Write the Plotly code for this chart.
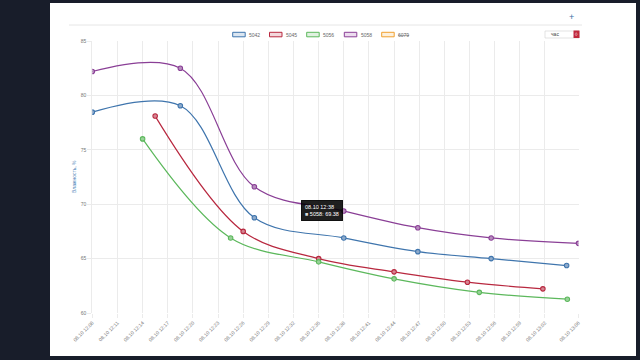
import plotly.graph_objects as go

DAY = "2020-10-08 "

series_names = ["5042", "5045", "5056", "5058"]
hidden_series = ["6079"]

t_5042 = ["12:08:00", "12:18:30", "12:27:20", "12:38:00", "12:46:50", "12:55:35", "13:04:35"]
v_5042 = [78.46, 79.05, 68.76, 66.9, 65.64, 65.0, 64.36]

t_5045 = ["12:15:30", "12:26:00", "12:35:00", "12:44:00", "12:52:45", "13:01:45"]
v_5045 = [78.1, 67.5, 65.0, 63.78, 62.83, 62.22]

t_5056 = ["12:14:00", "12:24:30", "12:35:00", "12:44:00", "12:54:10", "13:04:40"]
v_5056 = [76.0, 66.9, 64.7, 63.14, 61.9, 61.27]

t_5058 = ["12:08:00", "12:18:30", "12:27:20", "12:38:00", "12:46:50", "12:55:35", "13:06:00"]
v_5058 = [82.2, 82.5, 71.6, 69.38, 67.84, 66.9, 66.4]

tick_times = ["12:08", "12:11", "12:14", "12:17", "12:20", "12:23", "12:26", "12:29", "12:32",
              "12:35", "12:38", "12:41", "12:44", "12:47", "12:50", "12:53", "12:56", "12:59",
              "13:02", "13:06"]
tick_labels = ["08.10 " + t for t in tick_times]

y_ticks = [60, 65, 70, 75, 80, 85]
y_title = "Влажность, %"

tooltip_time = "12:38:00"
tooltip_label = "08.10 12:38"
tooltip_series = "5058"
tooltip_value = 69.38

colors = {"5042": "#3f75ad", "5045": "#b8283f", "5056": "#5cb85c", "5058": "#8a3f96", "6079": "#f0a030"}
fills = {"5042": "#dbe6f1", "5045": "#f3d8dc", "5056": "#e0f1e0", "5058": "#ecdcef", "6079": "#fdf0dc"}
marker_fills = {"5042": "#8eaacb", "5045": "#d58592", "5056": "#98d198", "5058": "#b68dbd"}

data = {"5042": (t_5042, v_5042), "5045": (t_5045, v_5045),
        "5056": (t_5056, v_5056), "5058": (t_5058, v_5058)}

W, H = 640, 360
def px(x):
    return x / W
def py(y):
    return 1 - y / H

fig = go.Figure()
for name in series_names:
    ts, vs = data[name]
    fig.add_trace(go.Scatter(
        x=[DAY + t for t in ts], y=vs, mode="lines+markers", name=name,
        line=dict(color=colors[name], width=1.2, shape="spline", smoothing=1.0),
        marker=dict(size=4.5, color=marker_fills[name], line=dict(color=colors[name], width=1.1)),
        showlegend=False, hoverinfo="skip"))

font = "Liberation Sans, Arial, sans-serif"

shapes = [
    dict(type="rect", xref="paper", yref="paper", x0=px(50), x1=px(636), y0=py(356), y1=py(3),
         fillcolor="white", line=dict(width=0), layer="below"),
    dict(type="line", xref="paper", yref="paper", x0=px(69), x1=px(582), y0=py(25), y1=py(25),
         line=dict(color="#e6e6e6", width=1)),
    dict(type="rect", xref="paper", yref="paper", x0=px(545), x1=px(579), y0=py(38), y1=py(31),
         fillcolor="white", line=dict(color="#d0d0d0", width=0.6)),
    dict(type="rect", xref="paper", yref="paper", x0=px(573.5), x1=px(579.5), y0=py(38), y1=py(30.5),
         fillcolor="#c0283c", line=dict(width=0)),
]

annotations = [
    dict(text="+", xref="paper", yref="paper", x=px(571.5), y=py(17), showarrow=False,
         font=dict(size=9, color="#3a6ea5", family=font), xanchor="center", yanchor="middle"),
    dict(text="час", xref="paper", yref="paper", x=px(549), y=py(34.3), showarrow=False,
         font=dict(size=5, color="#444", family=font), xanchor="left", yanchor="middle"),
    dict(text="◊", xref="paper", yref="paper", x=px(576.5), y=py(34.3), showarrow=False,
         font=dict(size=5, color="white", family=font), xanchor="center", yanchor="middle"),
]

legend_items = series_names + hidden_series
lx = [232.7, 269.5, 306.7, 344.3, 381.7]
for name, x0 in zip(legend_items, lx):
    shapes.append(dict(type="rect", xref="paper", yref="paper", x0=px(x0), x1=px(x0 + 12.5),
                       y0=py(36.8), y1=py(32.3), fillcolor=fills[name],
                       line=dict(color=colors[name], width=1)))
    label = name if name in series_names else "<s>" + name + "</s>"
    annotations.append(dict(text=label, xref="paper", yref="paper", x=px(x0 + 14.5), y=py(34.6),
                            showarrow=False, xanchor="left", yanchor="middle",
                            font=dict(size=5, color="#666", family=font)))

annotations.append(dict(text=y_title, xref="paper", yref="paper", x=px(74), y=py(177),
                        textangle=-90, showarrow=False, xanchor="center", yanchor="middle",
                        font=dict(size=5, color="#4a7fb5", family=font)))

annotations.append(dict(text=tooltip_label + "<br><span style='color:#ddd'>■</span> " +
                        tooltip_series + ": " + str(tooltip_value),
                        x=DAY + tooltip_time, y=tooltip_value, xref="x", yref="y",
                        showarrow=False, xanchor="right", yanchor="middle", xshift=-1,
                        align="left", bgcolor="rgba(0,0,0,0.88)", bordercolor="rgba(0,0,0,0.88)",
                        borderpad=3, font=dict(size=5.5, color="white", family=font)))

fig.update_layout(
    width=W, height=H, margin=dict(l=0, r=0, t=0, b=0, autoexpand=False),
    paper_bgcolor="#181d2a", plot_bgcolor="white",
    shapes=shapes, annotations=annotations, showlegend=False,
    font=dict(family=font, size=5, color="#666"),
    xaxis=dict(domain=[px(92.3), px(578.5)], type="date", automargin=False,
               range=[DAY + "12:08", DAY + "13:06"],
               tickvals=[DAY + t for t in tick_times], ticktext=tick_labels,
               tickangle=-45, showgrid=True, gridcolor="#ebebeb", gridwidth=1,
               ticks="outside", ticklen=4, tickcolor="#ebebeb",
               tickfont=dict(size=5, color="#777", family=font),
               showline=False, zeroline=False),
    yaxis=dict(domain=[py(313), py(41)], range=[60, 85], tickvals=y_ticks, automargin=False,
               showgrid=True, gridcolor="#ebebeb", gridwidth=1,
               ticks="outside", ticklen=4, tickcolor="#ebebeb",
               tickfont=dict(size=5, color="#777", family=font),
               showline=True, linecolor="#ebebeb", zeroline=False),
)

fig.write_html("out.html", config={"displayModeBar": False},
               post_script="document.body.style.margin='0';document.body.style.overflow='hidden';")
